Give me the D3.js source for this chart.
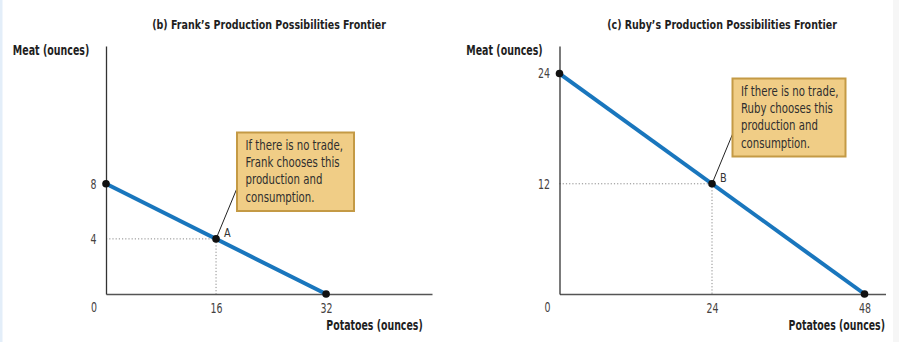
<!DOCTYPE html>
<html><head><meta charset="utf-8">
<script src="https://cdn.jsdelivr.net/npm/d3@7"></script>
<style>
body{margin:0;background:#fff;}
svg{display:block;}
text{font-family:"DejaVu Sans",sans-serif;}
</style></head>
<body>
<svg id="c" width="899" height="342"></svg>
<script>
// ---- data ----
const panelTitles = ["(b) Frank\u2019s Production Possibilities Frontier", "(c) Ruby\u2019s Production Possibilities Frontier"];
const yAxisLabels = ["Meat (ounces)", "Meat (ounces)"];
const xAxisLabels = ["Potatoes (ounces)", "Potatoes (ounces)"];
const frontierPotatoes = [[0, 32], [0, 48]];   // x-values of PPF endpoints
const frontierMeat = [[8, 0], [24, 0]];        // y-values of PPF endpoints
const choicePotatoes = [16, 24];
const choiceMeat = [4, 12];
const choiceLabels = ["A", "B"];
const xTickValues = [[16, 32], [24, 48]];
const yTickValues = [[4, 8], [12, 24]];
const xDomainMax = [47.4, 51.3];
const yDomainMax = [18, 27];
const noteLines = [
  ["If there is no trade,", "Frank chooses this", "production and", "consumption."],
  ["If there is no trade,", "Ruby chooses this", "production and", "consumption."]
];

// ---- layout ----
const layout = [
  {x0:106, x1:432, y0:294, y1:46, titleX:269, titleW:234, yLabRight:89.3, xLabRight:422.7,
   box:{x:237, y:132.5, w:117, h:78.5}, lead:{x:237.5, y:187}},
  {x0:559.5, x1:885.5, y0:294, y1:46, titleX:722, titleW:230, yLabRight:542.7, xLabRight:885,
   box:{x:732.5, y:78.5, w:113, h:78}, lead:{x:733, y:133}}
];

const svg = d3.select("#c");
// faint page edge strips as in reference
svg.append("rect").attr("x",0).attr("y",0).attr("width",2.5).attr("height",342).attr("fill","#e3eef9");
svg.append("rect").attr("x",893).attr("y",0).attr("width",6).attr("height",342).attr("fill","#f6f6f6");

const tickColor = "#45423f";

// horizontally squeeze a text around its anchor point (emulates a condensed face)
function squeeze(el, s){
  const t = d3.select(el);
  const ax = +t.attr("x") || 0;
  const prev = t.attr("transform") || "";
  t.attr("transform", `${prev} translate(${ax},0) scale(${s},1) translate(${-ax},0)`);
}
function fitTo(sel, w){
  sel.each(function(){ squeeze(this, w / this.getComputedTextLength()); });
  return sel;
}
function condense(sel, ratio){
  sel.each(function(){ squeeze(this, ratio); });
  return sel;
}

layout.forEach((L, i) => {
  const g = svg.append("g");
  const x = d3.scaleLinear().domain([0, xDomainMax[i]]).range([L.x0, L.x1]);
  const y = d3.scaleLinear().domain([0, yDomainMax[i]]).range([L.y0, L.y1]);

  // title
  fitTo(g.append("text").attr("x", L.titleX).attr("y", 29).attr("text-anchor","middle")
    .attr("font-size", 13).attr("font-weight","bold").attr("fill","#1e1e1e").text(panelTitles[i]), L.titleW);
  // y axis label
  fitTo(g.append("text").attr("x", L.yLabRight).attr("y", 55).attr("text-anchor","end")
    .attr("font-size", 13.5).attr("font-weight","bold").attr("fill","#1e1e1e").text(yAxisLabels[i]), 76.5);
  // x axis label
  fitTo(g.append("text").attr("x", L.xLabRight).attr("y", 330.5).attr("text-anchor","end")
    .attr("font-size", 13.5).attr("font-weight","bold").attr("fill","#1e1e1e").text(xAxisLabels[i]), 96.5);

  // dotted guides
  g.append("line").attr("x1", x(0)).attr("x2", x(choicePotatoes[i]))
    .attr("y1", y(choiceMeat[i])).attr("y2", y(choiceMeat[i]))
    .attr("stroke","#8a8a8a").attr("stroke-width",1).attr("stroke-dasharray","1.2,2");
  g.append("line").attr("x1", x(choicePotatoes[i])).attr("x2", x(choicePotatoes[i]))
    .attr("y1", y(choiceMeat[i])).attr("y2", y(0))
    .attr("stroke","#8a8a8a").attr("stroke-width",1).attr("stroke-dasharray","1.2,2");

  // axes
  const xAxis = d3.axisBottom(x).tickValues(xTickValues[i]).tickSize(0).tickPadding(9)
    .tickFormat(d3.format("d"));
  const gx = g.append("g").attr("transform", `translate(0,${L.y0})`).call(xAxis);
  gx.select(".domain").attr("stroke","#555").attr("stroke-width",1.3);
  gx.selectAll("text").attr("font-size", 13.5).attr("fill", tickColor)
    .attr("font-family",'"DejaVu Sans",sans-serif');
  condense(gx.selectAll("text"), 0.7);

  const yAxis = d3.axisLeft(y).tickValues(yTickValues[i]).tickSize(0).tickPadding(9.5)
    .tickFormat(d3.format("d"));
  const gy = g.append("g").attr("transform", `translate(${L.x0},0)`).call(yAxis);
  gy.select(".domain").attr("stroke","#333").attr("stroke-width",1.3);
  gy.selectAll("text").attr("font-size", 13.5).attr("fill", tickColor)
    .attr("font-family",'"DejaVu Sans",sans-serif');
  condense(gy.selectAll("text"), 0.7);

  // origin label
  condense(g.append("text").attr("x", L.x0 - 12).attr("y", L.y0 + 18.5).attr("text-anchor","middle")
    .attr("font-size", 13.5).attr("fill", tickColor).text("0"), 0.7);

  // frontier
  const pts = frontierPotatoes[i].map((p, k) => [p, frontierMeat[i][k]]);
  g.append("path").attr("d", d3.line().x(d => x(d[0])).y(d => y(d[1]))(pts))
    .attr("stroke","#1976bd").attr("stroke-width",4).attr("fill","none");

  // leader line
  g.append("line").attr("x1", x(choicePotatoes[i])).attr("y1", y(choiceMeat[i]))
    .attr("x2", L.lead.x).attr("y2", L.lead.y).attr("stroke","#222").attr("stroke-width",1);

  // points
  const allPts = pts.concat([[choicePotatoes[i], choiceMeat[i]]]);
  g.selectAll("circle.pt").data(allPts).enter().append("circle")
    .attr("cx", d => x(d[0])).attr("cy", d => y(d[1])).attr("r", 3.8).attr("fill","#111");

  // point label
  condense(g.append("text").attr("x", x(choicePotatoes[i]) + 8).attr("y", y(choiceMeat[i]) - 1.5)
    .attr("font-size", 13).attr("fill","#333").text(choiceLabels[i]), 0.75);

  // note box
  g.append("rect").attr("x", L.box.x).attr("y", L.box.y).attr("width", L.box.w).attr("height", L.box.h)
    .attr("fill","#f0cd86").attr("stroke","#c49a45").attr("stroke-width",2);
  const lines = g.selectAll("text.note").data(noteLines[i]).enter().append("text")
    .attr("class","note").attr("x", L.box.x + 8.5).attr("y", (d, k) => L.box.y + 17.5 + k * 17.2)
    .attr("font-size", 13.5).attr("fill","#2e2e2e").text(d => d);
  const natural = lines.nodes()[0].getComputedTextLength();
  condense(lines, 97.5 / natural);
});
</script>
</body></html>
